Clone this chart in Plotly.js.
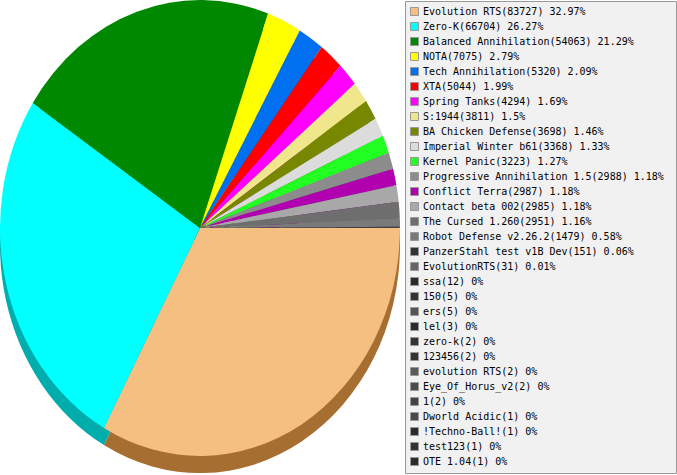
<!DOCTYPE html>
<html>
<head>
<meta charset="utf-8">
<script src="https://cdn.plot.ly/plotly-3.0.1.min.js"></script>
<style>
  html, body { margin: 0; padding: 0; background: #ffffff; }
  #chart { width: 677px; height: 475px; }
</style>
</head>
<body>
<div id="chart"></div>
<script>
const labels = [
  "Evolution RTS", "Zero-K", "Balanced Annihilation", "NOTA", "Tech Annihilation",
  "XTA", "Spring Tanks", "S:1944", "BA Chicken Defense", "Imperial Winter b61",
  "Kernel Panic", "Progressive Annihilation 1.5", "Conflict Terra", "Contact beta 002",
  "The Cursed 1.260", "Robot Defense v2.26.2", "PanzerStahl test v1B Dev", "EvolutionRTS",
  "ssa", "150", "ers", "lel", "zero-k", "123456", "evolution RTS", "Eye_Of_Horus_v2",
  "1", "Dworld Acidic", "!Techno-Ball!", "test123", "OTE 1.04"
];
const values = [
  83727, 66704, 54063, 7075, 5320,
  5044, 4294, 3811, 3698, 3368,
  3223, 2988, 2987, 2985,
  2951, 1479, 151, 31,
  12, 5, 5, 3, 2, 2, 2, 2,
  2, 1, 1, 1, 1
];
const colors = [
  "#f5bf82", "#00ffff", "#008800", "#ffff00", "#0070f0",
  "#ff0000", "#ff00ff", "#f0e68c", "#778800", "#dcdcdc",
  "#22ff22", "#8c8c8c", "#b000b0", "#a8a8a8",
  "#6e6e6e", "#7a7a7a", "#333333", "#666666",
  "#2b2b2b", "#333333", "#555555", "#2b2b2b", "#333333", "#333333", "#5a5a5a", "#4d4d4d",
  "#444444", "#4a4a4a", "#2b2b2b", "#333333", "#2b2b2b"
];

const W = 677, H = 475;
const cx = 200, cy = 228, r = 200, k = 228 / 200, depth = 15;

function darken(hex, f) {
  const n = parseInt(hex.slice(1), 16);
  const rr = Math.round(((n >> 16) & 255) * f);
  const gg = Math.round(((n >> 8) & 255) * f);
  const bb = Math.round((n & 255) * f);
  return "rgb(" + rr + "," + gg + "," + bb + ")";
}
const shadowColors = colors.map((c, i) => i === 0 ? "#a66e30" : darken(c, 0.68));

const total = values.reduce((a, b) => a + b, 0);
function pctText(v) {
  return (Math.round(v / total * 10000) / 100).toString() + "%";
}

function pieTrace(cols, centerY) {
  return {
    type: "pie",
    labels: labels,
    values: values,
    sort: false,
    direction: "clockwise",
    rotation: 90,
    marker: { colors: cols, line: { width: 0 } },
    textinfo: "none",
    hoverinfo: "none",
    showlegend: false,
    domain: {
      x: [(cx - r) / W, (cx + r) / W],
      y: [1 - (centerY + r) / H, 1 - (centerY - r) / H]
    }
  };
}

const shapes = [{
  type: "rect", xref: "paper", yref: "paper",
  x0: 405.5 / W, x1: 676.5 / W, y0: 1 - 1.5 / H, y1: 1 - 473.5 / H,
  fillcolor: "#f1f1f1", line: { color: "#999999", width: 1 }, layer: "above"
}];
const annotations = [];
labels.forEach((lab, i) => {
  const yc = 11.5 + 15 * i;
  shapes.push({
    type: "rect", xref: "paper", yref: "paper",
    x0: 410.5 / W, x1: 418.5 / W, y0: 1 - (yc - 4) / H, y1: 1 - (yc + 4) / H,
    fillcolor: colors[i], line: { color: "#999999", width: 1 }, layer: "above"
  });
  annotations.push({
    xref: "paper", yref: "paper", x: 420.5 / W, y: 1 - yc / H,
    xanchor: "left", yanchor: "middle", showarrow: false,
    text: lab + "(" + values[i] + ") " + pctText(values[i]),
    font: { family: "DejaVu Sans Mono", size: 10, color: "#000000" }
  });
});

const layout = {
  width: W, height: H,
  margin: { l: 0, r: 0, t: 0, b: 0, pad: 0 },
  paper_bgcolor: "#ffffff",
  showlegend: false,
  shapes: shapes,
  annotations: annotations
};

Plotly.newPlot("chart", [pieTrace(shadowColors, cy + depth), pieTrace(colors, cy)], layout, { staticPlot: true })
  .then(() => {
    const pl = document.querySelector("#chart .pielayer");
    if (pl) pl.setAttribute("transform", "matrix(1,0,0," + k + ",0," + (cy * (1 - k)) + ")");
  });
</script>
</body>
</html>
